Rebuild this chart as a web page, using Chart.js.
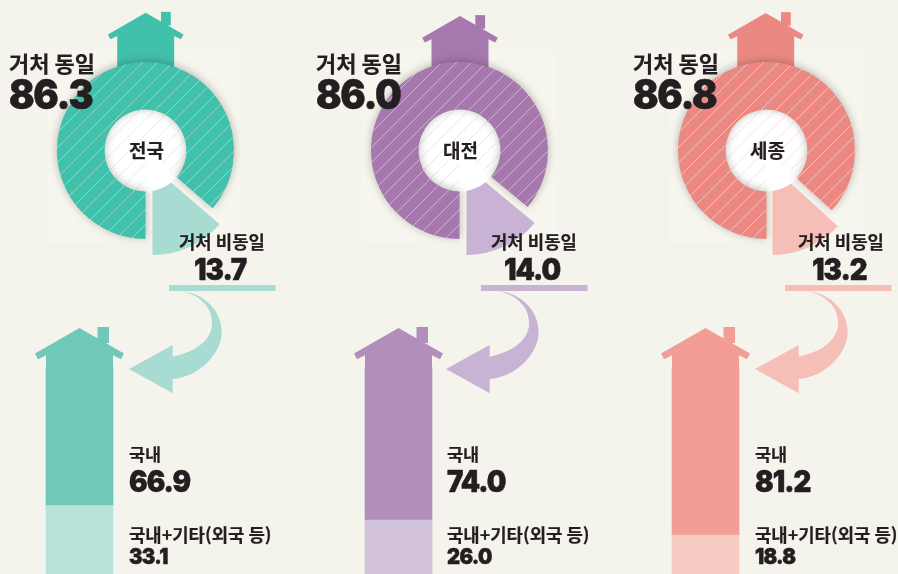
<!DOCTYPE html>
<html lang="ko">

<head>
  <meta charset="UTF-8">
  <title>거처 동일 / 거처 비동일</title>
  <script src="https://cdn.jsdelivr.net/npm/chart.js"></script>
  <style>
    html,
    body {
      margin: 0;
      padding: 0;
      background: #f5f4ec;
      overflow: hidden;
    }

    #page {
      position: relative;
      width: 898px;
      height: 574px;
      overflow: hidden;
    }

    canvas {
      position: absolute;
    }

    .plate {
      position: absolute;
      background: #f6f5ee;
    }

    .txt {
      position: absolute;
      white-space: nowrap;
      line-height: 1;
      color: #231f20;
      font-family: "Noto Sans CJK KR", sans-serif;
      font-weight: 700;
      word-spacing: -0.05em;
      -webkit-text-stroke: 0.2px #231f20;
    }

    .num {
      font-family: Inter, sans-serif;
      font-weight: 900;
      letter-spacing: -0.035em;
      transform: scaleX(0.92);
      transform-origin: left top;
      -webkit-text-stroke: 0.5px #231f20;
    }
  </style>
</head>

<body>
  <div id="page"></div>

  <script>
    const regions = ["전국", "대전", "세종"];
    const sameHome = [86.3, 86.0, 86.8];
    const diffHome = [13.7, 14.0, 13.2];
    const domestic = [66.9, 74.0, 81.2];
    const domesticOther = [33.1, 26.0, 18.8];

    const sameLabel = "거처 동일";
    const diffLabel = "거처 비동일";
    const domesticLabel = "국내";
    const otherLabel = "국내+기타(외국 등)";

    // colours, one entry per panel
    const houseColors = ["#41c0ac", "#a678ae", "#ec8882"];
    const hatchColors = ["#a9e3d8", "#d6c3dc", "#fad3cf"];
    const innerHatch = ["#cdeee7", "#e6d9ea", "#fbdad7"];
    const sliceColors = ["#a8dbd2", "#c8b3d5", "#f5bfb7"];
    const barColors = ["#70c8b9", "#b28fba", "#f29d95"];
    const barLight = ["#b9e2da", "#d2c2dc", "#f8cbc2"];

    // layout, page pixels
    const donutX = [145.5, 459.5, 766.5];
    const sliceX = [152, 466, 772.5];
    const sliceY = 166.5;
    const roofX = [145.7, 460, 765.7];
    const roofY = [12.7, 16, 13];
    const barX = [79.5, 398.5, 705.5];
    const arrowX = [129, 446, 755];
    const ruleLeft = [169, 481, 785];
    const textX = [9, 316, 633];
    const diffTextX = [179, 491, 798];
    const diffNumX = [194, 504, 812];
    const sideTextX = [129, 447, 755];

    const page = document.getElementById("page");

    function addCanvas(left, top, w, h) {
      const c = document.createElement("canvas");
      c.width = w;
      c.height = h;
      c.style.left = left + "px";
      c.style.top = top + "px";
      c.style.width = w + "px";
      c.style.height = h + "px";
      page.appendChild(c);
      return c;
    }

    function addText(str, x, y, size, cls, center) {
      const s = document.createElement("span");
      s.className = "txt " + (cls || "");
      s.textContent = str;
      s.style.left = x + "px";
      s.style.top = y + "px";
      s.style.fontSize = size + "px";
      if (center) s.style.transform = "translateX(-50%)";
      page.appendChild(s);
    }

    function hatch(base, line) {
      const t = 15;
      const c = document.createElement("canvas");
      c.width = t;
      c.height = t;
      const g = c.getContext("2d");
      g.fillStyle = base;
      g.fillRect(0, 0, t, t);
      g.strokeStyle = line;
      g.lineWidth = 0.75;
      g.beginPath();
      g.moveTo(-3, t + 3);
      g.lineTo(t + 3, -3);
      g.moveTo(-3, 3);
      g.lineTo(3, -3);
      g.moveTo(t - 3, t + 3);
      g.lineTo(t + 3, t - 3);
      g.stroke();
      return g.createPattern(c, "repeat");
    }

    function drawHouse(ctx, x, y, k, bottom, color) {
      const pts = [[44.5, 25.5], [41.5, 31.3], [33.5, 27.3]];
      ctx.fillStyle = color;
      ctx.beginPath();
      ctx.moveTo(x, y);
      pts.forEach(p => ctx.lineTo(x + p[0] * k, y + p[1] * k));
      ctx.lineTo(x + 33.5 * k, bottom);
      ctx.lineTo(x - 33.5 * k, bottom);
      ctx.lineTo(x - 33.5 * k, y + 27.3 * k);
      ctx.lineTo(x - 41.5 * k, y + 31.3 * k);
      ctx.lineTo(x - 44.5 * k, y + 25.5 * k);
      ctx.closePath();
      ctx.fill();
      ctx.fillRect(x + 18 * k, y - k, 11.5 * k, 16 * k);
    }

    function drawArrow(ctx, x, y, color) {
      ctx.fillStyle = color;
      ctx.beginPath();
      ctx.moveTo(x, y);
      ctx.lineTo(x + 43.7, y - 24);
      ctx.lineTo(x + 43.7, y - 12.3);
      ctx.bezierCurveTo(x + 66, y - 17, x + 84, y - 29, x + 83, y - 47);
      ctx.bezierCurveTo(x + 83, y - 62, x + 70, y - 75, x + 50, y - 78.5);
      ctx.bezierCurveTo(x + 76, y - 76, x + 93, y - 58, x + 92.7, y - 36);
      ctx.bezierCurveTo(x + 92, y - 15, x + 70, y + 8, x + 43.7, y + 10);
      ctx.lineTo(x + 43.7, y + 24.3);
      ctx.closePath();
      ctx.fill();
    }

    // soft shadow under the outer ring only
    const ringShadow = {
      id: "ringShadow",
      beforeDatasetDraw(chart, args) {
        if (args.index !== 0) return;
        chart.ctx.save();
        chart.ctx.shadowColor = "rgba(40,40,30,0.32)";
        chart.ctx.shadowBlur = 8;
        chart.ctx.shadowOffsetY = -1;
      },
      afterDatasetDraw(chart, args) {
        if (args.index === 0) chart.ctx.restore();
      }
    };

    regions.forEach((region, i) => {
      const plate = document.createElement("div");
      plate.className = "plate";
      plate.style.cssText = `left:${donutX[i] - 97.5}px;top:50px;width:194px;height:193px`;
      page.appendChild(plate);

      // lower part: stacked bar with roof, arrow and rule
      const barLeft = barX[i] - 200.5;
      new Chart(addCanvas(barLeft, 0, 401, 574), {
        type: "bar",
        data: {
          labels: [region],
          datasets: [
            { data: [domesticOther[i]], backgroundColor: barLight[i] },
            { data: [domestic[i]], backgroundColor: barColors[i] }
          ]
        },
        options: {
          responsive: false,
          animation: false,
          events: [],
          layout: { padding: { top: 367 } },
          barThickness: 67,
          plugins: { legend: { display: false }, tooltip: { enabled: false } },
          scales: {
            x: { stacked: true, display: false },
            y: { stacked: true, display: false, min: 0, max: 100 }
          }
        },
        plugins: [{
          id: "roof",
          beforeDatasetsDraw(chart) {
            const ctx = chart.ctx;
            const bar = chart.getDatasetMeta(1).data[0];
            drawHouse(ctx, bar.x, bar.y - 39, 1, bar.y + 1, barColors[i]);
            ctx.save();
            ctx.translate(-barLeft, 0);
            ctx.fillStyle = sliceColors[i];
            ctx.fillRect(ruleLeft[i], 285, 106.5, 6);
            drawArrow(ctx, arrowX[i], 369, sliceColors[i]);
            ctx.restore();
          }
        }]
      });

      // exploded slice, own canvas so it can sit off centre
      new Chart(addCanvas(sliceX[i] - 150.5, sliceY - 150.5, 301, 301), {
        type: "doughnut",
        data: {
          labels: [sameLabel, diffLabel],
          datasets: [{
            data: [sameHome[i], diffHome[i]],
            backgroundColor: ["rgba(0,0,0,0)", sliceColors[i]],
            borderWidth: 0
          }]
        },
        options: {
          responsive: false,
          animation: false,
          events: [],
          rotation: 180,
          radius: 88.5,
          cutout: 30,
          plugins: { legend: { display: false }, tooltip: { enabled: false } }
        }
      });

      // ring and hatched centre, house top behind them
      const ringLeft = donutX[i] - 150.5;
      new Chart(addCanvas(ringLeft, 0, 301, 301), {
        type: "doughnut",
        data: {
          labels: [sameLabel, diffLabel],
          datasets: [
            {
              data: [sameHome[i], diffHome[i]],
              backgroundColor: [hatch(houseColors[i], hatchColors[i]), "rgba(0,0,0,0)"],
              borderWidth: 0,
              weight: 47.5
            },
            {
              data: [sameHome[i], diffHome[i]],
              backgroundColor: [hatch("#ffffff", innerHatch[i]), "#ffffff"],
              borderWidth: 0,
              weight: 41
            }
          ]
        },
        options: {
          responsive: false,
          animation: false,
          events: [],
          rotation: 180,
          radius: 88.5,
          cutout: 0,
          plugins: { legend: { display: false }, tooltip: { enabled: false } }
        },
        plugins: [ringShadow, {
          id: "houseTop",
          beforeDatasetsDraw(chart) {
            drawHouse(chart.ctx, roofX[i] - ringLeft, roofY[i], 0.85, 90, houseColors[i]);
          }
        }]
      });

      addText(sameLabel, textX[i], 51, 22);
      addText(sameHome[i].toFixed(1), textX[i], 74, 41, "num");
      addText(region, donutX[i] + 1, 140, 19, "", true);
      addText(diffLabel, diffTextX[i], 233, 17.8);
      addText(diffHome[i].toFixed(1), diffNumX[i], 254, 30, "num");
      addText(domesticLabel, sideTextX[i], 445, 17.5);
      addText(domestic[i].toFixed(1), sideTextX[i], 466, 30, "num");
      addText(otherLabel, sideTextX[i], 526, 17.8);
      addText(domesticOther[i].toFixed(1), sideTextX[i], 545, 22, "num");
    });
  </script>
</body>

</html>
